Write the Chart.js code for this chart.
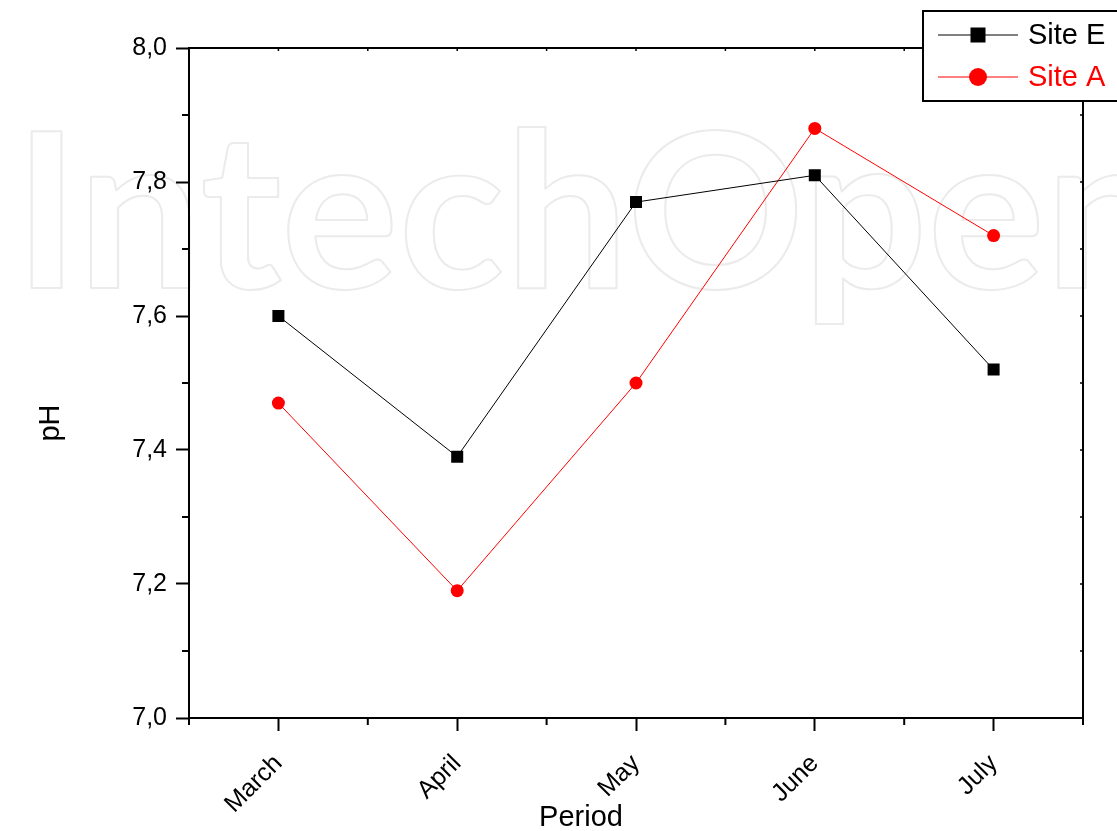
<!DOCTYPE html>
<html>
<head>
<meta charset="utf-8">
<script src="https://cdn.jsdelivr.net/npm/chart.js@4.4.1/dist/chart.umd.min.js"></script>
<style>
  html, body { margin: 0; padding: 0; background: #fff; }
  #wrap { width: 1117px; height: 831px; }
</style>
</head>
<body>
<div id="wrap"><canvas id="phChart"></canvas></div>
<script>
// data
const periods = ["March", "April", "May", "June", "July"];
const siteE = [7.60, 7.39, 7.77, 7.81, 7.52];
const siteA = [7.47, 7.19, 7.50, 7.88, 7.72];
const yTicks = [7.0, 7.2, 7.4, 7.6, 7.8, 8.0];
const yMinorTicks = [7.1, 7.3, 7.5, 7.7, 7.9];
const xTitle = "Period";
const yTitle = "pH";

const FONT = "'Liberation Sans', Arial, sans-serif";

// faint publisher watermark behind everything
const watermarkPlugin = {
  id: "watermark",
  beforeDraw(chart) {
    const ctx = chart.ctx;
    ctx.save();
    ctx.font = "bold 216px Lato, sans-serif";
    const w = ctx.measureText("IntechOpe").width;
    const sx = 1031 / w;
    ctx.scale(sx, 1);
    ctx.strokeStyle = "#ebebeb";
    ctx.lineWidth = 2 / sx;
    ctx.lineJoin = "round";
    ctx.textBaseline = "alphabetic";
    ctx.strokeText("IntechOpen", 14 / sx, 288);
    ctx.restore();
  },
};

// box frame, minor ticks, axis titles, legend
const decorPlugin = {
  id: "decor",
  afterDraw(chart) {
    const ctx = chart.ctx;
    const area = chart.chartArea;
    const xs = chart.scales.x;
    const ys = chart.scales.y;
    ctx.save();
    ctx.strokeStyle = "#000";

    // top + right frame
    ctx.lineWidth = 2;
    ctx.beginPath();
    ctx.moveTo(area.left - 1, area.top);
    ctx.lineTo(area.right, area.top);
    ctx.lineTo(area.right, area.bottom + 1);
    ctx.stroke();

    // minor ticks on y (outside)
    yMinorTicks.forEach((v) => {
      const y = ys.getPixelForValue(v);
      ctx.beginPath();
      ctx.moveTo(area.left - 7, y);
      ctx.lineTo(area.left, y);
      ctx.stroke();
    });
    // minor ticks on x, between categories
    for (let i = 0; i <= periods.length; i++) {
      const x = xs.getPixelForValue(i - 0.5);
      ctx.beginPath();
      ctx.moveTo(x, area.bottom);
      ctx.lineTo(x, area.bottom + 7);
      ctx.stroke();
    }
    // small inward ticks on top and right axes
    ctx.lineWidth = 1.5;
    for (let i = 0; i < periods.length * 2; i++) {
      const x = xs.getPixelForValue(i / 2);
      ctx.beginPath();
      ctx.moveTo(x, area.top);
      ctx.lineTo(x, area.top + 3);
      ctx.stroke();
    }
    yTicks.concat(yMinorTicks).forEach((v) => {
      const y = ys.getPixelForValue(v);
      ctx.beginPath();
      ctx.moveTo(area.right - 3, y);
      ctx.lineTo(area.right, y);
      ctx.stroke();
    });

    // axis titles
    ctx.fillStyle = "#000";
    ctx.font = "29px " + FONT;
    ctx.textAlign = "center";
    ctx.textBaseline = "alphabetic";
    ctx.fillText(xTitle, 581, 826);
    ctx.save();
    ctx.translate(59, 423);
    ctx.rotate(-Math.PI / 2);
    ctx.fillText(yTitle, 0, 0);
    ctx.restore();

    // legend box
    ctx.fillStyle = "#fff";
    ctx.fillRect(923, 11, 220, 90);
    ctx.lineWidth = 2;
    ctx.strokeRect(923, 11, 220, 90);
    const rows = [35, 77];
    chart.data.datasets.forEach((ds, i) => {
      const y = rows[i];
      ctx.strokeStyle = ds.borderColor;
      ctx.lineWidth = 1;
      ctx.beginPath();
      ctx.moveTo(938, y);
      ctx.lineTo(1018, y);
      ctx.stroke();
      ctx.fillStyle = ds.pointBackgroundColor;
      if (ds.pointStyle === "rect") {
        ctx.fillRect(978 - 7.5, y - 7.5, 15, 15);
      } else {
        ctx.beginPath();
        ctx.arc(978, y, 9, 0, Math.PI * 2);
        ctx.fill();
      }
      ctx.font = "29px " + FONT;
      ctx.textAlign = "left";
      ctx.textBaseline = "middle";
      ctx.fillStyle = ds.borderColor;
      ctx.fillText(ds.label, 1028, y + 1);
    });
    ctx.restore();
  },
};

new Chart(document.getElementById("phChart"), {
  type: "line",
  data: {
    labels: periods,
    datasets: [
      {
        label: "Site E",
        data: siteE,
        borderColor: "#000000",
        borderWidth: 1,
        pointStyle: "rect",
        pointRadius: 8.5,
        pointBackgroundColor: "#000000",
        pointBorderWidth: 0,
        tension: 0,
      },
      {
        label: "Site A",
        data: siteA,
        borderColor: "#ff0000",
        borderWidth: 1,
        pointStyle: "circle",
        pointRadius: 6.5,
        pointBackgroundColor: "#ff0000",
        pointBorderWidth: 0,
        tension: 0,
      },
    ],
  },
  options: {
    responsive: true,
    maintainAspectRatio: false,
    animation: false,
    layout: { padding: { top: 48, right: 34, bottom: 0, left: 0 } },
    plugins: {
      legend: { display: false },
      tooltip: { enabled: false },
    },
    scales: {
      x: {
        type: "category",
        offset: true,
        grid: {
          drawOnChartArea: false,
          drawTicks: true,
          tickLength: 13,
          tickWidth: 2,
          tickColor: "#000",
          offset: false,
        },
        border: { display: true, color: "#000", width: 2 },
        ticks: {
          color: "#000",
          font: { family: FONT, size: 25 },
          minRotation: 45,
          maxRotation: 45,
          autoSkip: false,
          padding: 18,
        },
        afterFit: (s) => { s.height = 113; },
      },
      y: {
        min: 7.0,
        max: 8.0,
        afterBuildTicks: (s) => { s.ticks = yTicks.map((v) => ({ value: v })); },
        grid: {
          drawOnChartArea: false,
          drawTicks: true,
          tickLength: 13,
          tickWidth: 2,
          tickColor: "#000",
        },
        border: { display: true, color: "#000", width: 2 },
        ticks: {
          color: "#000",
          font: { family: FONT, size: 25 },
          padding: 9,
          callback: (v) => Number(v).toFixed(1).replace(".", ","),
        },
        afterFit: (s) => { s.width = 189; },
      },
    },
  },
  plugins: [watermarkPlugin, decorPlugin],
});
</script>
</body>
</html>
